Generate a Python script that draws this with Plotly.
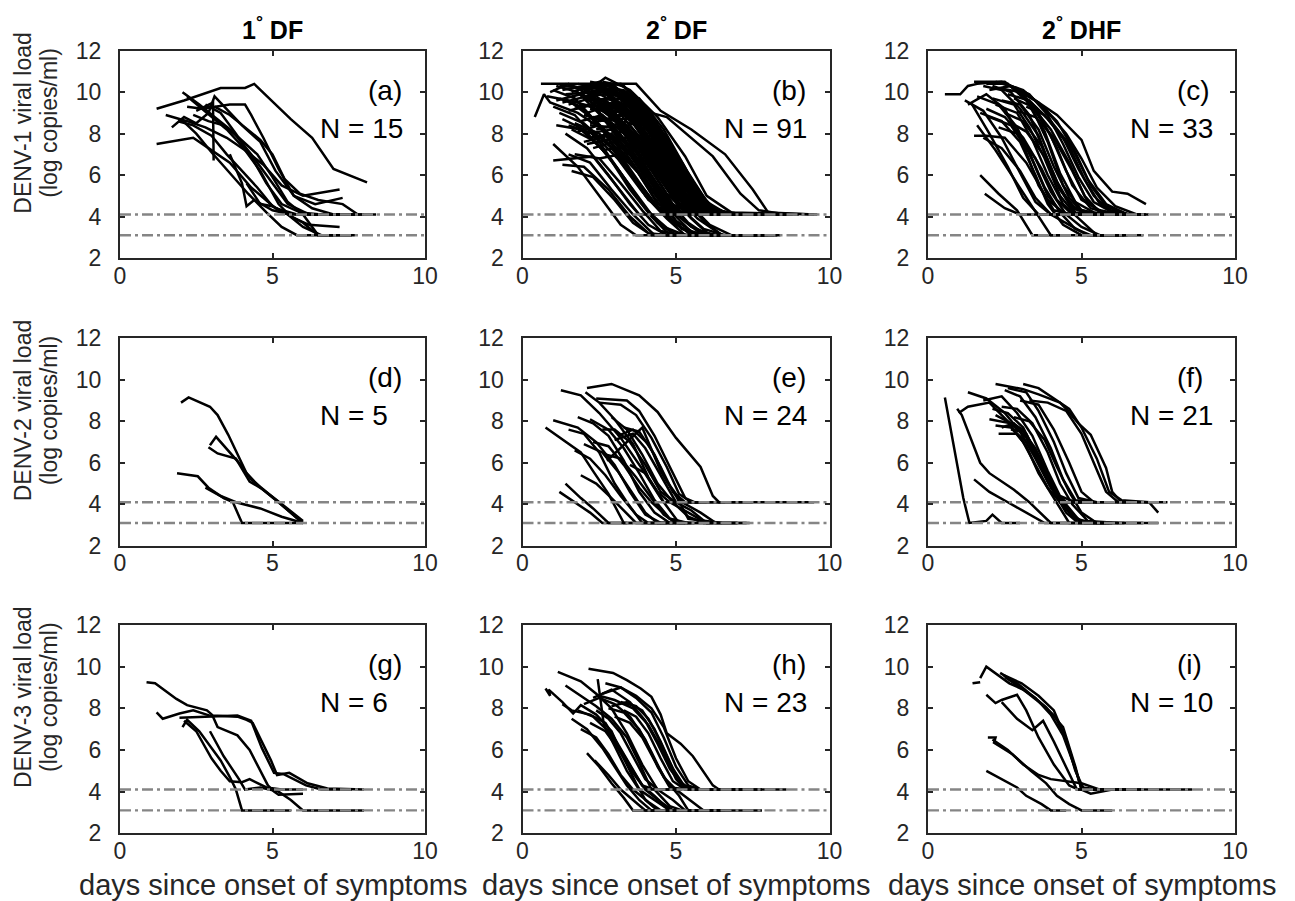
import plotly.graph_objects as go

# ---------------- data ----------------
COLUMN_TITLES = ["1", "2", "2"]
COLUMN_SUFFIX = ["DF", "DF", "DHF"]
ROW_TITLES = ["DENV-1 viral load", "DENV-2 viral load", "DENV-3 viral load"]
ROW_UNITS = "(log copies/ml)"
X_TITLE = "days since onset of symptoms"
PANEL_LABELS = ["(a)", "(b)", "(c)", "(d)", "(e)", "(f)", "(g)", "(h)", "(i)"]
N_COUNTS = [15, 91, 33, 5, 24, 21, 6, 23, 10]
X_TICKS = [0, 5, 10]
Y_TICKS = [2, 4, 6, 8, 10, 12]
LOD_LEVELS = [4.1, 3.1]

PANEL_A = [
    [(1.2,9.2),(2.1,9.6),(3.3,10.2),(4.1,10.2),(4.4,10.4),(5.1,9.4),(5.6,8.7),(6.3,7.8),(7.0,6.3),(8.1,5.65)],
    [(1.2,7.5),(2.0,7.7),(2.4,7.8),(2.9,7.3),(3.6,6.6),(4.3,5.4),(5.1,4.4),(5.8,4.1),(7.5,4.1)],
    [(1.5,8.9),(2.2,8.6),(2.8,8.3),(3.5,7.8),(4.1,7.2),(4.7,6.5),(5.3,5.5),(6.0,5.0),(7.2,5.3)],
    [(2.05,10.0),(2.6,9.4),(3.1,8.8),(3.7,8.1),(4.3,7.0),(4.9,5.8),(5.5,4.6),(6.2,4.1),(8.4,4.1)],
    [(1.7,8.3),(2.1,8.8),(2.5,8.5),(2.9,9.0),(3.1,9.8),(3.5,9.2),(4.0,8.4),(4.6,7.6),(5.1,6.2),(5.7,5.0),(6.4,4.6),(7.3,4.9)],
    [(2.2,9.3),(2.7,9.2),(3.6,9.4),(4.1,9.4),(4.3,8.9),(4.7,7.8),(5.2,6.3),(5.7,5.0),(6.3,4.4),(7.0,4.1),(7.7,4.1)],
    [(2.5,9.1),(3.05,9.5),(3.07,6.7)],
    [(2.2,9.8),(2.6,9.3),(3.0,8.8),(3.5,8.2),(4.0,7.4),(4.6,6.2),(5.2,4.6),(5.6,4.0),(6.2,3.6),(7.2,3.5)],
    [(2.4,8.9),(2.9,8.6),(3.4,8.4),(3.9,7.8),(4.5,7.0),(5.0,5.9),(5.5,4.7),(6.0,4.1),(6.5,3.1),(7.6,3.1)],
    [(1.9,8.6),(2.4,8.4),(3.0,7.9),(3.5,7.0),(4.0,6.2),(4.5,5.4),(5.0,4.5),(5.5,4.1),(6.0,3.5),(6.6,3.1),(7.0,3.1)],
    [(4.15,5.6),(4.6,4.6),(5.0,4.5),(5.5,4.1),(6.0,3.7),(6.5,3.1),(7.7,3.1)],
    [(2.8,9.4),(3.3,9.0),(3.8,8.0),(4.3,6.9),(4.8,5.6),(5.3,4.6),(5.9,4.2),(6.6,4.1),(8.0,4.1)],
    [(3.6,7.0),(4.0,5.6),(4.15,4.5),(4.4,4.8),(5.0,4.3),(5.6,4.1),(6.6,4.1)],
    [(2.0,8.7),(2.5,8.0),(3.0,7.1),(3.6,6.1),(4.2,5.1),(4.8,4.2),(5.3,3.5),(5.8,3.1),(6.8,3.1)],
    [(3.1,9.3),(3.6,8.9),(4.1,8.3),(4.6,7.7),(5.0,7.0),(5.4,5.8),(5.9,5.1),(6.5,4.8),(7.3,4.6),(7.8,4.1)],
]

PANEL_B = [
    [(0.6,10.4),(1.6,10.4),(2.6,10.4),(3.7,10.4),(4.5,9.1),(5.5,8.2),(6.6,7.0),(7.5,5.3),(8.0,4.2),(9.5,4.1)],
    [(1.2,10.3),(2.3,10.2),(3.2,9.9),(4.2,9.0),(4.7,8.8),(6.2,6.9),(7.1,5.1),(7.7,4.3),(8.6,4.1)],
    [(0.4,8.8),(0.7,9.9),(0.9,9.5),(1.8,9.0),(2.7,8.1),(3.6,6.5),(4.4,4.6),(5.2,4.1),(6.4,4.1)],
    [(0.8,9.8),(1.5,9.6),(2.4,8.6),(3.3,7.2),(4.1,5.5),(4.8,4.1),(6.0,4.1)],
    [(1.0,7.5),(1.8,6.4),(2.5,5.0),(3.2,3.6),(3.7,3.1),(5.0,3.1)],
    [(1.0,6.7),(2.3,6.9),(3.0,5.6),(3.8,4.1),(5.2,4.1)],
    [(1.1,9.6),(1.9,9.9),(2.7,9.0),(3.6,7.8),(4.4,6.0),(5.1,4.5),(5.8,4.1),(7.2,4.1)],
    [(1.3,10.1),(2.0,10.3),(2.9,9.6),(3.8,8.3),(4.6,6.8),(5.3,5.0),(6.0,4.1),(7.5,4.1)],
    [(1.4,9.9),(2.2,10.0),(3.1,9.1),(4.0,7.5),(4.9,5.6),(5.6,4.3),(6.5,4.1)],
    [(1.5,9.4),(2.2,9.7),(3.2,8.6),(4.1,7.0),(4.9,5.2),(5.5,4.1),(7.0,4.1)],
    [(1.6,10.0),(2.4,10.4),(3.3,9.7),(4.2,8.2),(5.0,6.3),(5.7,4.6),(6.3,4.1),(8.3,4.1)],
    [(1.8,10.2),(2.5,10.5),(3.4,9.9),(4.3,8.6),(5.2,6.6),(5.9,4.8),(6.7,4.1),(9.0,4.1)],
    [(1.7,9.2),(2.5,9.5),(3.4,8.4),(4.2,6.9),(5.0,5.0),(5.7,3.9),(6.5,3.1),(8.0,3.1)],
    [(1.9,9.8),(2.7,10.7),(3.5,10.1),(4.4,8.8),(5.3,6.9),(6.0,5.0),(6.8,4.2),(9.6,4.1)],
    [(2.0,10.1),(2.8,10.3),(3.7,9.3),(4.6,7.5),(5.4,5.4),(6.1,4.3),(7.3,4.1)],
    [(2.1,9.0),(2.9,9.4),(3.8,8.5),(4.6,6.8),(5.3,5.1),(6.0,4.1),(8.5,4.1)],
    [(2.2,8.5),(3.0,8.8),(3.9,7.7),(4.7,6.1),(5.4,4.6),(6.1,4.1),(7.8,4.1)],
    [(2.3,10.4),(3.1,10.0),(4.0,8.9),(4.9,7.2),(5.6,5.4),(6.3,4.3),(7.2,4.1),(8.8,4.1)],
    [(2.4,9.6),(3.2,9.7),(4.1,8.5),(4.9,6.7),(5.6,4.9),(6.2,4.1),(7.0,4.1)],
    [(2.5,10.2),(3.3,10.1),(4.2,8.7),(5.0,6.8),(5.7,5.0),(6.4,4.1),(8.0,4.1)],
    [(1.2,9.0),(2.0,8.5),(2.9,7.3),(3.7,5.8),(4.5,4.3),(5.2,3.4),(6.0,3.1),(7.0,3.1)],
    [(1.5,8.4),(2.3,8.0),(3.1,6.8),(3.9,5.2),(4.6,4.1),(5.5,4.1)],
    [(1.6,9.6),(2.4,9.2),(3.2,7.9),(4.0,6.1),(4.8,4.4),(5.4,4.1),(6.6,4.1)],
    [(1.8,8.1),(2.5,8.4),(3.3,7.4),(4.1,5.8),(4.8,4.4),(5.5,3.5),(6.2,3.1),(7.6,3.1)],
    [(1.9,9.4),(2.7,9.3),(3.5,8.0),(4.3,6.2),(5.1,4.5),(5.8,4.1),(6.8,4.1)],
    [(2.0,7.6),(2.8,7.9),(3.6,6.9),(4.4,5.3),(5.1,4.1),(6.3,4.1)],
    [(2.1,10.0),(2.9,10.2),(3.7,9.0),(4.5,7.2),(5.2,5.3),(5.9,4.1),(7.4,4.1)],
    [(2.2,9.2),(3.0,9.0),(3.8,7.6),(4.6,5.8),(5.3,4.2),(5.9,3.4),(6.6,3.1),(8.2,3.1)],
    [(2.3,8.8),(3.1,8.6),(3.9,7.2),(4.7,5.4),(5.4,4.1),(6.6,4.1)],
    [(2.4,10.3),(3.2,10.4),(4.0,9.3),(4.8,7.5),(5.5,5.6),(6.1,4.4),(6.9,4.1),(8.6,4.1)],
    [(2.6,9.9),(3.4,9.8),(4.2,8.4),(5.0,6.4),(5.7,4.7),(6.4,4.1),(7.7,4.1)],
    [(2.7,9.0),(3.5,9.1),(4.3,7.9),(5.1,6.0),(5.8,4.5),(6.5,4.1),(7.3,4.1)],
    [(2.8,10.0),(3.6,9.6),(4.4,8.1),(5.2,6.1),(5.9,4.4),(6.7,4.1),(8.4,4.1)],
    [(3.0,9.5),(3.8,9.3),(4.6,7.8),(5.4,5.7),(6.0,4.3),(7.0,4.1)],
    [(1.0,9.3),(1.7,8.9),(2.5,7.6),(3.3,5.9),(4.0,4.4),(4.6,3.5),(5.3,3.1),(6.5,3.1)],
    [(1.3,8.7),(2.0,8.2),(2.8,6.9),(3.5,5.3),(4.2,4.0),(4.8,3.1),(6.0,3.1)],
    [(1.4,10.4),(2.1,10.1),(2.9,8.9),(3.7,7.1),(4.5,5.2),(5.2,4.1),(6.2,4.1)],
    [(1.6,8.2),(2.4,7.6),(3.1,6.3),(3.8,4.8),(4.4,3.7),(5.0,3.1),(6.8,3.1)],
    [(1.7,7.0),(2.5,6.8),(3.2,5.6),(3.9,4.3),(4.5,3.3),(5.2,3.1),(6.2,3.1)],
    [(1.8,9.9),(2.6,9.6),(3.4,8.3),(4.2,6.5),(5.0,4.7),(5.7,4.1),(7.1,4.1)],
    [(2.0,9.3),(2.7,9.6),(3.5,8.7),(4.3,7.0),(5.0,5.1),(5.6,4.1),(6.4,4.1)],
    [(2.1,8.0),(2.9,8.2),(3.6,7.1),(4.3,5.5),(5.0,4.0),(5.6,3.1),(7.2,3.1)],
    [(2.2,10.5),(3.0,10.3),(3.8,9.2),(4.6,7.6),(5.4,5.7),(6.0,4.4),(6.7,4.1),(8.0,4.1)],
    [(2.3,7.3),(3.0,7.6),(3.8,6.6),(4.5,5.0),(5.1,4.1),(6.0,4.1)],
    [(2.4,9.1),(3.2,9.3),(4.0,8.1),(4.8,6.2),(5.5,4.5),(6.1,3.6),(6.8,3.1),(7.9,3.1)],
    [(2.5,8.6),(3.3,8.9),(4.1,7.8),(4.9,5.9),(5.6,4.2),(6.3,4.1)],
    [(2.6,10.5),(3.3,10.3),(4.1,9.0),(4.9,7.0),(5.6,5.1),(6.2,4.1),(7.6,4.1)],
    [(2.7,8.3),(3.5,8.4),(4.3,7.0),(5.0,5.2),(5.6,4.1),(6.9,4.1)],
    [(2.9,9.7),(3.7,9.6),(4.5,8.2),(5.3,6.2),(6.0,4.6),(6.6,4.1),(8.1,4.1)],
    [(3.1,8.9),(3.9,8.8),(4.7,7.3),(5.4,5.4),(6.0,4.1),(7.3,4.1)],
    [(0.9,10.0),(1.5,10.4),(2.3,9.8),(3.1,8.5),(3.9,6.7),(4.7,4.8),(5.3,4.1),(6.1,4.1)],
    [(1.1,10.3),(1.8,10.0),(2.6,8.8),(3.4,7.2),(4.2,5.4),(4.9,4.1),(5.8,4.1)],
    [(1.2,9.7),(1.9,9.3),(2.7,8.0),(3.5,6.3),(4.3,4.6),(5.0,3.6),(5.7,3.1),(7.4,3.1)],
    [(1.5,7.0),(2.2,6.6),(2.9,5.3),(3.6,4.1),(4.3,3.1),(5.5,3.1)],
    [(1.7,10.2),(2.4,10.3),(3.2,9.3),(4.0,7.8),(4.8,5.8),(5.5,4.3),(6.2,4.1),(7.9,4.1)],
    [(1.9,8.6),(2.6,8.9),(3.4,7.9),(4.2,6.2),(4.9,4.6),(5.5,4.1),(6.7,4.1)],
    [(2.0,9.8),(2.8,9.9),(3.6,8.8),(4.4,7.0),(5.1,5.1),(5.8,4.1),(7.0,4.1)],
    [(2.2,7.8),(2.9,8.0),(3.7,6.8),(4.4,5.1),(5.0,3.8),(5.7,3.1),(7.0,3.1)],
    [(2.3,9.9),(3.0,10.1),(3.8,9.0),(4.6,7.2),(5.3,5.3),(6.0,4.1),(8.8,4.1)],
    [(2.5,9.4),(3.2,9.5),(4.0,8.3),(4.8,6.4),(5.5,4.6),(6.2,4.1),(7.1,4.1)],
    [(2.6,7.2),(3.4,7.4),(4.1,6.2),(4.8,4.7),(5.4,3.7),(6.0,3.1),(7.6,3.1)],
    [(2.7,9.5),(3.5,9.3),(4.3,7.8),(5.1,5.8),(5.8,4.3),(6.4,4.1),(7.8,4.1)],
    [(2.8,8.7),(3.6,8.7),(4.4,7.3),(5.1,5.5),(5.8,4.1),(7.0,4.1)],
    [(3.0,10.0),(3.8,9.7),(4.6,8.2),(5.4,6.1),(6.1,4.5),(6.8,4.1),(8.5,4.1)],
    [(1.3,9.5),(2.1,9.8),(2.9,9.2),(3.7,7.8),(4.5,6.0),(5.2,4.4),(5.9,4.1),(6.9,4.1)],
    [(1.4,8.0),(2.1,7.3),(2.8,6.0),(3.5,4.6),(4.1,3.6),(4.7,3.1),(5.8,3.1)],
    [(1.6,6.2),(2.3,5.9),(3.0,4.8),(3.6,3.7),(4.2,3.1),(5.4,3.1)],
    [(1.8,10.4),(2.6,10.2),(3.4,9.2),(4.2,7.6),(5.0,5.6),(5.7,4.2),(6.4,4.1),(8.2,4.1)],
    [(2.0,8.9),(2.7,8.6),(3.5,7.3),(4.3,5.6),(5.0,4.1),(5.7,3.3),(6.4,3.1),(8.4,3.1)],
    [(2.1,9.6),(2.9,9.7),(3.7,8.5),(4.5,6.7),(5.3,4.8),(5.9,4.1),(6.9,4.1)],
    [(2.2,8.4),(3.0,8.3),(3.8,6.9),(4.5,5.2),(5.2,4.1),(6.1,4.1)],
    [(2.4,10.1),(3.1,9.8),(3.9,8.6),(4.7,6.8),(5.4,4.9),(6.1,4.1),(7.5,4.1)],
    [(2.5,6.8),(3.2,7.0),(3.9,5.9),(4.6,4.5),(5.2,3.4),(5.8,3.1),(6.9,3.1)],
    [(2.6,9.2),(3.4,9.0),(4.2,7.6),(5.0,5.6),(5.7,4.1),(6.8,4.1)],
    [(2.8,9.3),(3.6,9.4),(4.4,8.0),(5.2,6.0),(5.9,4.4),(6.6,4.1),(7.7,4.1)],
    [(2.9,8.1),(3.7,8.0),(4.5,6.6),(5.2,4.9),(5.9,3.8),(6.5,3.1),(8.3,3.1)],
    [(3.2,9.6),(4.0,9.1),(4.8,7.4),(5.5,5.5),(6.2,4.2),(7.2,4.1)],
    [(1.0,10.1),(1.7,9.7),(2.5,8.4),(3.3,6.6),(4.1,4.8),(4.8,4.1),(5.9,4.1)],
    [(1.5,9.1),(2.3,9.4),(3.1,8.6),(3.9,7.0),(4.7,5.1),(5.4,4.1),(6.6,4.1)],
    [(1.7,8.5),(2.5,8.0),(3.3,6.7),(4.0,5.0),(4.7,3.9),(5.3,3.1),(6.6,3.1)],
    [(1.9,10.0),(2.7,10.0),(3.5,8.8),(4.3,6.9),(5.0,5.0),(5.7,4.1),(7.3,4.1)],
    [(2.1,7.5),(2.8,7.7),(3.6,6.5),(4.3,4.9),(4.9,3.8),(5.5,3.1),(6.4,3.1)],
    [(2.3,9.5),(3.1,9.4),(3.9,8.0),(4.7,6.1),(5.4,4.4),(6.0,4.1),(7.2,4.1)],
    [(2.4,8.2),(3.2,8.5),(4.0,7.4),(4.8,5.6),(5.5,4.1),(6.5,4.1)],
    [(2.6,10.4),(3.4,10.0),(4.2,8.7),(5.0,6.7),(5.7,4.8),(6.3,4.1),(8.7,4.1)],
    [(2.7,7.7),(3.5,7.8),(4.2,6.5),(4.9,4.9),(5.5,3.9),(6.1,3.1),(7.4,3.1)],
    [(2.9,9.1),(3.7,9.0),(4.5,7.6),(5.3,5.6),(6.0,4.1),(7.5,4.1)],
    [(3.1,9.8),(3.9,9.4),(4.7,7.8),(5.5,5.8),(6.2,4.3),(6.9,4.1),(8.0,4.1)],
    [(1.1,8.4),(1.9,8.2),(2.7,7.1),(3.5,5.5),(4.2,4.1),(4.9,3.2),(5.5,3.1),(6.8,3.1)],
    [(1.3,6.5),(2.0,6.4),(2.8,5.3),(3.5,4.0),(4.1,3.2),(4.8,3.1),(5.8,3.1)],
    [(3.3,8.6),(4.1,8.2),(4.8,6.7),(5.5,4.9),(6.1,4.1),(6.9,4.1)],
]

PANEL_C = [
    [(0.55,9.9),(1.05,9.9),(1.3,10.3),(1.6,10.4),(2.4,10.5),(3.1,10.0),(4.2,8.9),(5.0,7.7),(5.4,6.2),(6.0,5.2),(6.5,5.1),(7.1,4.6)],
    [(1.5,10.5),(2.5,10.5),(3.2,9.7),(4.0,8.6),(4.7,7.3),(5.2,5.8),(5.8,4.6),(6.5,4.1),(7.2,4.1)],
    [(1.4,9.5),(2.0,8.0),(2.6,6.4),(3.1,4.9),(3.6,4.1),(4.4,4.1)],
    [(1.6,8.4),(2.2,7.2),(2.9,5.6),(3.5,4.2),(4.0,3.1),(5.0,3.1)],
    [(1.7,6.0),(2.3,5.1),(2.9,4.3),(3.4,3.1),(4.3,3.1)],
    [(1.85,5.1),(2.5,4.4),(3.0,4.1),(4.5,4.1)],
    [(1.5,7.9),(1.9,7.9),(2.5,7.8),(3.2,6.6),(3.9,4.8),(4.5,4.1),(5.5,4.1)],
    [(1.8,10.3),(2.4,10.1),(3.0,9.2),(3.6,7.9),(4.1,5.9),(4.6,4.6),(5.2,4.1),(6.2,4.1)],
    [(1.9,10.4),(2.6,10.4),(3.2,9.6),(3.8,8.1),(4.3,6.1),(4.8,4.7),(5.4,4.2),(6.6,4.1)],
    [(2.0,10.1),(2.7,10.3),(3.3,9.5),(3.9,7.6),(4.4,5.5),(5.0,4.3),(5.7,4.1)],
    [(1.3,9.4),(1.9,9.9),(2.5,9.2),(3.1,7.5),(3.6,5.5),(4.1,4.3),(4.7,4.1)],
    [(2.2,10.5),(2.9,10.2),(3.4,9.3),(4.0,7.9),(4.5,6.2),(5.0,4.8),(5.6,4.3),(6.3,4.1)],
    [(2.1,9.7),(2.8,9.4),(3.3,8.3),(3.8,6.8),(4.3,5.0),(4.8,4.1),(5.9,4.1)],
    [(1.7,9.0),(2.4,8.6),(3.0,7.6),(3.5,6.0),(3.9,4.6),(4.4,3.6),(5.0,3.1),(6.0,3.1)],
    [(2.3,10.2),(3.0,10.0),(3.6,9.0),(4.2,7.3),(4.7,5.5),(5.3,4.4),(6.0,4.1),(6.8,4.1)],
    [(2.5,10.4),(3.1,10.1),(3.8,9.2),(4.5,8.0),(5.0,6.8),(5.5,5.4),(6.1,4.5),(6.8,4.1)],
    [(2.6,9.9),(3.3,9.6),(3.9,8.7),(4.6,7.4),(5.1,5.8),(5.6,4.6),(6.2,4.1),(7.0,4.1)],
    [(1.9,9.2),(2.5,8.8),(3.1,7.8),(3.7,6.3),(4.2,4.8),(4.7,4.1),(5.6,4.1)],
    [(2.4,9.6),(3.0,9.4),(3.6,8.2),(4.1,6.4),(4.6,4.9),(5.1,4.1),(6.4,4.1)],
    [(2.0,8.8),(2.7,8.4),(3.3,7.1),(3.8,5.4),(4.3,4.2),(4.8,3.4),(5.3,3.1),(6.5,3.1)],
    [(1.6,9.8),(2.3,9.4),(2.9,8.3),(3.4,6.7),(3.9,5.0),(4.4,4.1),(5.2,4.1)],
    [(2.7,10.3),(3.3,9.9),(3.9,8.9),(4.4,7.5),(4.9,5.9),(5.4,4.7),(6.0,4.2),(6.6,4.1)],
    [(2.8,9.7),(3.4,9.3),(4.0,8.2),(4.6,6.6),(5.1,5.0),(5.6,4.2),(6.3,4.1)],
    [(2.1,10.3),(2.7,10.0),(3.3,8.9),(3.8,7.1),(4.3,5.3),(4.8,4.4),(5.5,4.1)],
    [(2.9,9.1),(3.5,8.8),(4.1,7.8),(4.7,6.2),(5.2,4.7),(5.7,4.1),(6.9,4.1)],
    [(2.2,9.4),(2.9,9.0),(3.4,7.7),(3.9,6.0),(4.4,4.6),(4.9,3.9),(5.5,3.1),(6.4,3.1)],
    [(3.0,10.0),(3.6,9.5),(4.2,8.6),(4.8,7.1),(5.3,5.5),(5.8,4.5),(6.5,4.1),(7.1,4.1)],
    [(1.8,7.8),(2.4,7.3),(3.0,6.2),(3.5,4.9),(4.0,4.1),(4.6,3.6),(5.2,3.1),(6.3,3.1)],
    [(2.5,9.0),(3.1,8.6),(3.7,7.4),(4.2,5.7),(4.7,4.4),(5.3,4.1),(6.1,4.1)],
    [(1.2,9.6),(1.8,9.1),(2.4,7.8),(3.0,6.1),(3.5,4.7),(4.0,4.1),(4.9,4.1)],
    [(2.3,8.3),(2.9,8.0),(3.5,6.8),(4.0,5.2),(4.5,4.1),(5.0,3.5),(5.6,3.1),(7.0,3.1)],
    [(3.2,9.3),(3.8,8.9),(4.4,7.8),(4.9,6.3),(5.4,5.0),(5.9,4.3),(6.6,4.1)],
    [(2.6,8.6),(3.2,8.1),(3.8,6.9),(4.3,5.3),(4.8,4.2),(5.4,4.1),(6.2,4.1)],
]

PANEL_D = [
    [(2.0,8.9),(2.25,9.15),(2.95,8.7),(3.2,8.3),(3.55,7.35),(4.15,5.5),(4.6,4.8),(5.2,4.1),(6.0,3.1)],
    [(2.95,6.85),(3.15,7.25),(3.9,6.0),(4.3,5.2),(4.8,4.6),(5.3,4.0),(6.0,3.2)],
    [(2.9,6.75),(3.2,6.45),(3.8,6.2),(4.25,5.1),(4.7,4.7),(5.2,4.1),(5.9,3.2)],
    [(1.87,5.5),(2.55,5.35),(2.9,4.8),(3.4,4.3),(3.7,4.1),(4.0,3.1),(6.0,3.1)],
    [(2.8,4.8),(3.3,4.4),(3.8,4.1),(4.6,3.8),(5.3,3.4),(6.0,3.1)],
]

PANEL_E = [
    [(2.1,9.6),(2.9,9.8),(3.8,9.25),(4.4,8.45),(5.0,7.2),(5.8,5.8),(6.2,4.4),(6.4,4.1),(9.5,4.1)],
    [(1.25,9.5),(1.9,9.25),(2.5,8.4),(3.2,7.2),(3.9,5.7),(4.5,4.3),(5.1,3.1),(6.2,3.1)],
    [(2.4,9.1),(3.4,9.0),(3.8,8.5),(4.3,7.3),(4.8,5.8),(5.3,4.3),(5.6,4.1),(7.5,4.1)],
    [(0.75,7.7),(1.45,6.95),(1.9,6.5),(2.3,5.6),(2.8,4.5),(3.3,3.1),(4.5,3.1)],
    [(1.0,8.05),(1.8,7.7),(2.4,7.0),(3.0,5.9),(3.5,4.6),(4.0,3.5),(4.5,3.1),(5.3,3.1)],
    [(2.05,9.4),(2.5,8.9),(3.0,8.1),(3.6,6.9),(4.1,5.3),(4.6,4.1),(5.8,4.1)],
    [(2.75,6.1),(3.1,6.6),(3.9,7.7),(4.1,7.0),(4.5,5.6),(5.0,4.4),(5.4,3.3),(6.5,3.1)],
    [(1.8,8.2),(2.3,7.9),(2.8,7.3),(3.3,6.1),(3.8,4.6),(4.3,3.6),(4.8,3.1),(5.6,3.1)],
    [(1.5,7.6),(2.0,7.4),(2.5,6.5),(3.0,5.0),(3.4,4.1),(3.9,3.1),(4.7,3.1)],
    [(2.2,8.1),(2.8,7.6),(3.3,6.7),(3.8,5.5),(4.3,4.2),(4.8,3.3),(5.3,3.1)],
    [(2.6,7.6),(3.0,7.6),(3.5,7.0),(4.0,5.9),(4.5,4.6),(5.0,4.1),(5.7,4.1)],
    [(1.7,6.6),(2.2,6.2),(2.7,5.4),(3.2,4.4),(3.7,3.5),(4.1,3.1),(5.0,3.1)],
    [(2.9,8.2),(3.4,7.6),(3.9,6.4),(4.4,5.0),(4.9,4.1),(5.4,3.4),(5.9,3.1),(7.0,3.1)],
    [(1.4,5.0),(1.9,4.3),(2.3,3.8),(2.8,3.1),(3.6,3.1)],
    [(2.0,6.9),(2.6,6.5),(3.1,5.6),(3.6,4.5),(4.0,3.6),(4.4,3.1),(5.5,3.1)],
    [(3.0,7.1),(3.6,7.4),(4.0,6.7),(4.5,5.4),(5.0,4.1),(5.5,3.7),(6.0,3.1),(7.4,3.1)],
    [(2.3,7.0),(2.8,6.8),(3.3,5.9),(3.8,4.8),(4.2,4.1),(4.8,3.3),(5.4,3.1)],
    [(1.2,4.6),(1.7,4.1),(2.2,3.6),(2.6,3.1),(3.4,3.1)],
    [(3.1,7.3),(3.6,7.6),(4.1,6.9),(4.5,5.8),(4.9,4.6),(5.3,4.1),(6.0,4.1)],
    [(2.5,8.9),(3.2,8.8),(3.7,8.3),(4.2,7.2),(4.7,5.8),(5.1,4.5),(5.5,4.1),(6.6,4.1)],
    [(2.7,6.4),(3.2,6.2),(3.7,5.3),(4.2,4.3),(4.6,3.5),(5.0,3.1),(6.1,3.1)],
    [(3.3,7.7),(3.8,7.5),(4.3,6.4),(4.7,5.1),(5.2,4.1),(5.8,3.6),(6.3,3.1),(7.3,3.1)],
    [(1.9,5.4),(2.4,5.0),(2.9,4.3),(3.3,3.7),(3.7,3.1),(4.9,3.1)],
    [(3.5,5.9),(4.0,5.5),(4.4,4.6),(4.8,4.1),(5.4,3.6),(6.0,3.1),(7.0,3.1)],
]

PANEL_F = [
    [(0.55,9.15),(1.15,4.3),(1.35,3.1),(1.9,3.2),(2.1,3.5),(2.4,3.1),(3.0,3.1)],
    [(0.95,8.6),(1.1,8.3),(1.7,6.0),(2.0,5.5),(2.8,4.7),(3.3,4.1),(4.0,3.1),(5.0,3.1)],
    [(2.2,9.8),(3.1,9.55),(3.6,9.3),(4.3,8.9),(4.5,8.6),(4.9,7.9),(5.3,7.35),(5.8,5.75),(6.0,4.6),(6.3,4.1),(7.3,4.1)],
    [(1.3,9.4),(1.5,9.3),(1.9,9.1),(2.5,8.4),(3.0,7.5),(3.5,6.2),(4.0,4.8),(4.5,4.1),(5.5,4.1)],
    [(1.0,8.4),(1.3,8.7),(2.0,8.9),(2.6,8.0),(3.2,6.8),(3.6,5.5),(4.1,4.3),(4.6,3.1),(5.8,3.1)],
    [(1.8,9.0),(2.4,9.2),(2.9,8.4),(3.4,7.3),(3.9,5.6),(4.3,4.4),(4.8,4.1),(5.6,4.1)],
    [(2.2,8.3),(2.6,8.0),(3.1,7.6),(3.5,6.6),(3.9,5.1),(4.3,4.1),(4.9,3.1),(5.9,3.1)],
    [(2.4,7.7),(2.8,7.9),(3.2,7.4),(3.6,6.2),(4.0,4.9),(4.4,4.1),(5.3,4.1)],
    [(2.3,7.4),(2.9,7.4),(3.3,6.9),(3.7,5.8),(4.1,4.6),(4.5,3.6),(4.9,3.1),(6.0,3.1)],
    [(2.5,9.5),(3.0,9.2),(3.5,8.2),(4.0,6.7),(4.4,5.2),(4.8,4.2),(5.4,4.1)],
    [(2.6,9.6),(3.2,9.4),(3.6,8.5),(4.1,7.0),(4.5,5.5),(4.9,4.3),(5.5,4.1),(6.2,4.1)],
    [(2.0,8.1),(2.7,7.9),(3.2,7.2),(3.7,6.0),(4.1,4.7),(4.6,3.8),(5.0,3.1),(6.4,3.1)],
    [(3.0,9.0),(3.6,8.8),(4.1,7.6),(4.6,6.0),(5.0,4.6),(5.4,4.1),(6.6,4.1)],
    [(3.1,9.8),(3.6,9.6),(4.2,9.0),(4.6,8.6),(5.0,7.7),(5.5,6.2),(5.9,4.6),(6.3,4.2),(7.2,4.1),(7.5,3.6)],
    [(2.4,8.7),(2.9,8.6),(3.4,7.9),(3.9,6.5),(4.3,5.0),(4.7,4.0),(5.2,3.2),(6.2,3.1)],
    [(2.2,7.8),(2.7,7.7),(3.1,7.0),(3.5,5.9),(3.9,4.8),(4.3,4.1),(5.0,4.1)],
    [(1.5,5.2),(2.0,4.6),(2.6,4.1),(3.2,3.6),(3.8,3.1),(4.8,3.1)],
    [(2.8,8.2),(3.3,8.0),(3.8,7.1),(4.2,5.8),(4.6,4.6),(5.0,3.6),(5.5,3.1),(7.0,3.1)],
    [(3.3,9.0),(3.9,8.9),(4.5,8.5),(5.0,7.4),(5.4,6.0),(5.8,4.6),(6.2,4.1),(7.8,4.1)],
    [(2.1,8.6),(2.6,8.4),(3.1,7.7),(3.5,6.5),(3.9,5.2),(4.3,4.2),(4.8,3.3),(5.4,3.1),(7.5,3.1)],
    [(2.7,7.6),(3.1,7.5),(3.5,6.7),(3.9,5.4),(4.3,4.3),(4.7,3.5),(5.1,3.1),(6.0,3.1)],
]

PANEL_G = [
    [(0.87,9.25),(1.15,9.2),(1.85,8.45),(2.2,8.15),(2.85,7.9),(3.05,7.65),(3.85,7.6),(4.15,7.45),(4.35,7.3),(4.95,5.5),(5.15,4.8),(5.55,4.9),(6.15,4.4),(6.8,4.15),(8.0,4.1)],
    [(1.2,7.8),(1.4,7.5),(1.95,7.75),(2.4,7.9),(3.05,7.6),(3.2,7.1),(3.85,6.7),(4.25,6.0),(4.85,4.3),(5.05,4.0),(5.2,3.85),(6.0,3.9)],
    [(1.95,7.55),(3.85,7.65),(4.3,7.4),(4.65,6.1),(5.05,4.9),(5.35,4.85),(6.1,4.3),(6.6,4.1),(7.6,4.1)],
    [(2.05,7.1),(2.2,7.45),(2.6,6.9),(3.05,6.0),(3.3,5.5),(3.6,4.7),(3.8,4.1),(4.0,3.1),(5.6,3.1)],
    [(2.95,6.9),(3.4,5.7),(3.9,4.6),(4.1,4.1),(4.6,4.2),(5.2,4.0),(5.6,3.6),(6.0,3.1),(8.0,3.1)],
    [(2.1,7.4),(2.5,6.9),(3.0,5.6),(3.3,5.0),(3.6,4.5),(4.0,4.45),(4.25,4.6),(4.8,4.2),(5.3,4.1),(6.0,4.1)],
]

PANEL_H = [
    [(2.15,9.9),(2.95,9.7),(3.4,9.35),(3.85,8.95),(4.2,8.55),(4.5,7.7),(4.7,6.8),(5.15,6.3),(5.55,5.7),(6.2,4.3),(6.4,4.1),(8.6,4.1)],
    [(1.15,9.75),(1.9,9.3),(2.4,8.7),(2.9,8.0),(3.4,6.8),(3.9,5.3),(4.4,4.1),(5.2,4.1)],
    [(0.75,8.95),(0.9,8.6),(0.85,8.9),(1.3,8.3),(1.65,7.75),(1.9,8.15),(2.4,7.7),(2.9,6.9),(3.3,5.6),(3.7,4.4),(4.0,3.6),(4.4,3.1),(5.6,3.1)],
    [(1.4,9.1),(1.9,8.6),(2.4,8.1),(2.9,7.5),(3.4,6.6),(3.8,5.4),(4.2,4.1),(5.0,4.1)],
    [(2.45,9.4),(2.65,7.2),(3.0,6.2),(3.4,5.0),(3.8,4.1),(4.3,3.6),(4.8,3.1),(6.0,3.1)],
    [(2.3,8.5),(2.9,8.9),(3.5,8.3),(4.0,7.4),(4.4,6.3),(4.8,5.1),(5.2,4.3),(5.6,4.1),(7.0,4.1)],
    [(2.0,8.2),(2.5,8.5),(3.0,8.2),(3.5,7.6),(4.0,6.5),(4.4,5.2),(4.8,4.2),(5.4,4.1)],
    [(2.5,8.6),(3.0,8.4),(3.6,8.0),(4.1,7.2),(4.6,5.9),(5.0,4.6),(5.3,4.1),(6.5,4.1)],
    [(2.6,8.7),(3.2,9.0),(3.7,8.5),(4.2,7.8),(4.6,6.6),(5.0,5.2),(5.4,4.3),(5.8,4.1),(7.4,4.1)],
    [(1.6,7.5),(2.1,7.0),(2.6,6.1),(3.0,5.2),(3.4,4.3),(3.8,3.6),(4.2,3.1),(5.2,3.1)],
    [(2.1,5.85),(2.5,5.2),(2.9,4.4),(3.3,3.7),(3.6,3.1),(4.6,3.1)],
    [(2.35,5.5),(2.8,4.8),(3.2,4.1),(3.6,3.6),(4.0,3.1),(5.0,3.1)],
    [(2.8,8.0),(3.3,7.8),(3.8,7.0),(4.2,5.9),(4.6,4.7),(5.0,4.1),(5.9,3.1),(6.8,3.1)],
    [(3.0,7.6),(3.5,7.3),(3.9,6.6),(4.3,5.5),(4.7,4.5),(5.1,3.8),(5.4,3.1),(7.8,3.1)],
    [(1.8,7.9),(2.3,7.6),(2.8,6.9),(3.2,6.0),(3.6,5.0),(4.0,4.1),(4.5,3.5),(4.9,3.1),(6.2,3.1)],
    [(2.7,9.2),(3.2,9.0),(3.7,8.6),(4.2,8.0),(4.6,7.1),(5.0,5.6),(5.4,4.5),(5.8,4.1),(7.8,4.1)],
    [(2.2,7.3),(2.7,6.9),(3.1,6.1),(3.5,5.1),(3.9,4.3),(4.3,4.1),(4.8,3.3),(5.2,3.1)],
    [(3.2,8.3),(3.7,8.1),(4.1,7.5),(4.5,6.4),(4.9,5.1),(5.3,4.2),(5.8,4.1),(6.7,4.1)],
    [(1.9,7.0),(2.4,6.6),(2.8,5.8),(3.2,4.8),(3.6,4.1),(4.1,3.5),(4.5,3.1),(5.8,3.1)],
    [(2.9,8.1),(3.4,8.3),(3.9,7.9),(4.3,7.0),(4.7,5.7),(5.1,4.5),(5.5,4.1),(6.3,4.1)],
    [(1.3,8.2),(1.6,7.9),(2.2,7.7),(2.7,7.3),(3.1,6.3),(3.5,5.3),(3.9,4.3),(4.3,3.8),(4.8,3.1),(5.4,3.1)],
    [(3.3,7.9),(3.7,7.6),(4.1,6.8),(4.5,5.6),(4.9,4.5),(5.3,4.1),(6.0,4.1)],
    [(2.4,7.9),(2.8,7.5),(3.2,6.8),(3.6,5.7),(4.0,4.6),(4.4,4.1),(4.9,3.6),(5.3,3.1),(6.6,3.1)],
]

PANEL_I = [
    [(1.45,9.2),(1.7,9.25)],
    [(1.7,9.45),(1.9,10.0),(2.65,9.2),(3.1,8.9),(3.75,8.15),(4.15,7.6),(4.5,6.5),(4.95,4.4),(5.1,4.1),(8.6,4.1)],
    [(2.35,9.7),(3.0,9.1),(3.85,8.05),(4.4,7.1),(4.8,5.2),(5.0,4.1),(6.0,4.1)],
    [(1.9,8.65),(2.2,8.25),(2.4,8.4),(2.9,8.65),(3.2,7.9),(3.6,6.6),(4.1,5.3),(4.6,4.3),(4.9,4.1),(5.5,4.1)],
    [(2.4,8.3),(2.9,7.5),(3.4,6.95),(3.75,7.4),(4.1,6.4),(4.5,5.2),(4.85,4.1),(5.4,4.1)],
    [(1.95,6.6),(2.2,6.6),(2.15,6.35),(2.75,5.8),(3.35,5.0),(3.85,4.4),(4.2,3.8),(4.6,3.4),(5.0,3.1),(6.0,3.1)],
    [(1.9,5.0),(2.9,4.2),(3.2,3.8),(3.7,3.4),(4.0,3.1),(4.5,3.1)],
    [(2.5,9.5),(3.0,9.0),(3.5,8.5),(4.0,7.7),(4.4,6.7),(4.8,5.1),(5.0,4.1),(5.3,3.9),(5.7,4.0),(6.0,4.1),(7.0,4.1)],
    [(2.1,6.5),(2.6,6.0),(3.1,5.3),(3.6,4.8),(4.0,4.6),(4.5,4.5),(5.0,4.4),(5.6,4.1),(6.5,4.1)],
    [(2.45,9.6),(3.05,9.2),(3.6,8.6),(4.1,7.9),(4.5,6.5),(4.8,5.0),(5.05,4.2),(5.5,4.1)],
]

PANELS = [PANEL_A, PANEL_B, PANEL_C, PANEL_D, PANEL_E, PANEL_F, PANEL_G, PANEL_H, PANEL_I]

# ---------------- layout geometry (pixels in the page) ----------------
W, H = 1295, 901
PAGE_OFFSET = 8  # the browser's default body margin shifts the figure by this much
COL_PX = [(120, 425), (522.5, 829.5), (928, 1235)]
ROW_PX = [(50.7, 258), (338.3, 545.8), (625, 833.3)]


def fx(px):
    return (px - PAGE_OFFSET) / W


def fy(py):
    return 1 - (py - PAGE_OFFSET) / H


FONT = "Liberation Sans, Arial, Helvetica, sans-serif"
INK = "#262626"

fig = go.Figure()
layout = dict(
    width=W, height=H, autosize=False,
    margin=dict(l=0, r=0, t=0, b=0, pad=0, autoexpand=False),
    paper_bgcolor="white", plot_bgcolor="white", showlegend=False,
    font=dict(family=FONT, color=INK),
)
annotations = []

for k, panel in enumerate(PANELS):
    r, c = divmod(k, 3)
    idx = "" if k == 0 else str(k + 1)
    xa, ya = "x" + idx, "y" + idx
    x0, x1 = COL_PX[c]
    y0, y1 = ROW_PX[r]
    axis_common = dict(
        showgrid=False, zeroline=False, showline=True, linewidth=2, linecolor=INK,
        mirror="ticks", ticks="inside", ticklen=5, tickwidth=1.5, tickcolor=INK,
        tickfont=dict(size=23, color=INK, family=FONT), automargin=False,
    )
    layout["xaxis" + idx] = dict(
        axis_common, domain=[fx(x0), fx(x1)], range=[0, 10], tickvals=X_TICKS,
        anchor=ya, ticklabelstandoff=-4,
    )
    layout["yaxis" + idx] = dict(
        axis_common, domain=[fy(y1), fy(y0)], range=[2, 12], tickvals=Y_TICKS,
        anchor=xa, ticklabelstandoff=12,
    )
    xs, ys = [], []
    for line in panel:
        for (px, py) in line:
            xs.append(px)
            ys.append(py)
        xs.append(None)
        ys.append(None)
    fig.add_trace(go.Scatter(x=xs, y=ys, mode="lines", xaxis=xa, yaxis=ya,
                             line=dict(color="black", width=2.5), hoverinfo="skip"))
    for lvl in LOD_LEVELS:
        fig.add_trace(go.Scatter(x=[0, 10], y=[lvl, lvl], mode="lines", xaxis=xa, yaxis=ya,
                                 line=dict(color="#858585", width=2.4, dash="11px,4px,3px,4px"),
                                 hoverinfo="skip"))
    annotations.append(dict(x=8.05, y=10.1, xref=xa, yref=ya, text=PANEL_LABELS[k],
                            showarrow=False, xanchor="left", yanchor="middle",
                            font=dict(size=28, color="black", family=FONT)))
    annotations.append(dict(x=6.5, y=8.27, xref=xa, yref=ya, text=f"N = {N_COUNTS[k]}",
                            showarrow=False, xanchor="left", yanchor="middle",
                            font=dict(size=28, color="black", family=FONT)))

# column titles and x-axis titles
for c in range(3):
    cx = (COL_PX[c][0] + COL_PX[c][1]) / 2
    annotations.append(dict(x=fx(cx), y=fy(28), xref="paper", yref="paper",
                            text=f"<b>{COLUMN_TITLES[c]}<sup>°</sup> {COLUMN_SUFFIX[c]}</b>",
                            showarrow=False, xanchor="center", yanchor="middle",
                            font=dict(size=25, color="black", family=FONT)))
    annotations.append(dict(x=fx(cx), y=fy(885), xref="paper", yref="paper",
                            text=X_TITLE, showarrow=False, xanchor="center", yanchor="middle",
                            font=dict(size=29, color=INK, family=FONT)))

# row titles
for r in range(3):
    cy = ROW_PX[r][0] + 72
    annotations.append(dict(x=fx(23), y=fy(cy), xref="paper", yref="paper",
                            text=ROW_TITLES[r], textangle=-90, showarrow=False,
                            xanchor="center", yanchor="middle",
                            font=dict(size=23, color=INK, family=FONT)))
    annotations.append(dict(x=fx(49), y=fy(cy), xref="paper", yref="paper",
                            text=ROW_UNITS, textangle=-90, showarrow=False,
                            xanchor="center", yanchor="middle",
                            font=dict(size=23, color=INK, family=FONT)))

layout["annotations"] = annotations
fig.update_layout(**layout)
fig.write_html("out.html")
